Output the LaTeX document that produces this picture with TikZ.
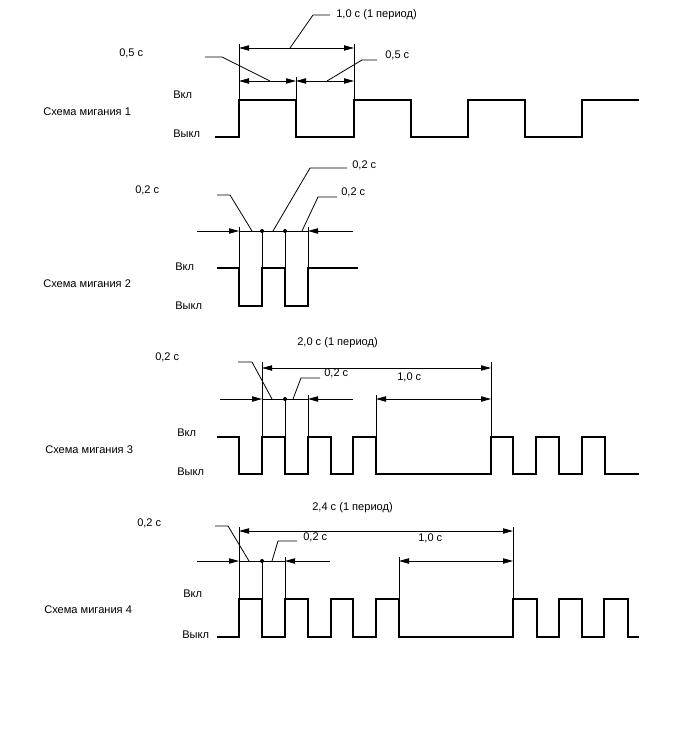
\documentclass[tikz,border=0pt]{standalone}
\usepackage{fontspec}
\setmainfont{Liberation Sans}
\usetikzlibrary{arrows.meta}
\begin{document}
\begin{tikzpicture}[x=0.75pt,y=-0.75pt,
  wave/.style={line width=2.2pt,line join=miter},
  thin/.style={line width=0.6pt},
  dim/.style={line width=0.6pt,{Triangle[length=7.5pt,width=4pt]}-{Triangle[length=7.5pt,width=4pt]}},
  arr/.style={line width=0.6pt,-{Triangle[length=7.5pt,width=4pt]}},
  lbl/.style={anchor=west,inner sep=0pt,font=\fontsize{8.3}{10}\selectfont},
  dotc/.style={circle,fill=black,inner sep=0pt,minimum size=3pt}]
\useasboundingbox (0,0) rectangle (688,755);
\fill[white] (0,0) rectangle (688,755);

% ---------- Schema 1 ----------
\node[lbl] (s1) at (43,112) {Схема мигания 1};
\node[lbl] (on1) at (173,95) {Вкл};
\node[lbl] (off1) at (173,134) {Выкл};
\draw[wave] (215,137) -- (239,137) -- (239,100) -- (296,100) -- (296,137) -- (354,137) -- (354,100) -- (411,100) -- (411,137) -- (468,137) -- (468,100) -- (525,100) -- (525,137) -- (582,137) -- (582,100) -- (639,100);
\coordinate (a1t) at (239,44); \coordinate (a1b) at (239,100);
\coordinate (b1t) at (296,77); \coordinate (b1b) at (296,100);
\coordinate (c1t) at (354,44); \coordinate (c1b) at (354,100);
\draw[thin] (a1t) -- (a1b); \draw[thin] (b1t) -- (b1b); \draw[thin] (c1t) -- (c1b);
\coordinate (p1l) at (239,48); \coordinate (p1r) at (354,48);
\draw[dim] (p1l) -- (p1r);
\coordinate (h1a) at (239,81); \coordinate (h1b) at (296,81); \coordinate (h1c) at (354,81);
\draw[dim] (h1a) -- (h1b);
\draw[dim] (h1b) -- (h1c);
\node[lbl] (t1p) at (336,15) {1,0 с (1 период)};
\draw[thin] (330,15) -- (313,15) -- (290,48);
\node[lbl] (t1a) at (119,53) {0,5 с};
\draw[thin] (205,57) -- (222,57) -- (270,81);
\node[lbl] (t1b) at (385,55) {0,5 с};
\draw[thin] (327,81) -- (362,60) -- (377,60);

% ---------- Schema 2 ----------
\node[lbl] (s2) at (43,284) {Схема мигания 2};
\node[lbl] (on2) at (175,267) {Вкл};
\node[lbl] (off2) at (175,306) {Выкл};
\draw[wave] (217,268) -- (239,268) -- (239,306) -- (262,306) -- (262,268) -- (285,268) -- (285,306) -- (308,306) -- (308,268) -- (358,268);
\draw[thin] (239,227) -- (239,268);
\draw[thin] (262,231) -- (262,268);
\draw[thin] (285,231) -- (285,268);
\draw[thin] (308,227) -- (308,268);
\coordinate (l2) at (197,231); \coordinate (a2) at (239,231);
\coordinate (d2) at (308,231); \coordinate (r2) at (353,231);
\draw[arr] (l2) -- (a2);
\draw[thin] (a2) -- (d2);
\draw[arr] (r2) -- (d2);
\node[dotc] (k2a) at (262,231) {};
\node[dotc] (k2b) at (285,231) {};
\node[lbl] (t2a) at (135,190) {0,2 с};
\draw[thin] (217,195) -- (230,195) -- (252,231);
\node[lbl] (t2b) at (352,165) {0,2 с};
\draw[thin] (273,231) -- (310,168) -- (347,168);
\node[lbl] (t2c) at (341,192) {0,2 с};
\draw[thin] (302,231) -- (318,197) -- (337,197);

% ---------- Schema 3 ----------
\node[lbl] (s3) at (45,450) {Схема мигания 3};
\node[lbl] (on3) at (177,433) {Вкл};
\node[lbl] (off3) at (177,472) {Выкл};
\draw[wave] (217,437) -- (239,437) -- (239,474) -- (262,474) -- (262,437) -- (285,437) -- (285,474) -- (308,474) -- (308,437) -- (331,437) -- (331,474) -- (353,474) -- (353,437) -- (376,437) -- (376,474) -- (491,474) -- (491,437) -- (513,437) -- (513,474) -- (536,474) -- (536,437) -- (559,437) -- (559,474) -- (582,474) -- (582,437) -- (605,437) -- (605,474) -- (639,474);
\draw[thin] (262,362) -- (262,437);
\draw[thin] (491,362) -- (491,437);
\draw[thin] (285,399) -- (285,437);
\draw[thin] (308,395) -- (308,437);
\draw[thin] (376,395) -- (376,437);
\coordinate (p3l) at (262,368); \coordinate (p3r) at (491,368);
\draw[dim] (p3l) -- (p3r);
\node[lbl] (t3p) at (297,343) {2,0 с (1 период)};
\coordinate (l3) at (220,399); \coordinate (a3) at (262,399);
\coordinate (d3) at (308,399); \coordinate (r3) at (353,399);
\draw[arr] (l3) -- (a3);
\draw[thin] (a3) -- (d3);
\draw[arr] (r3) -- (d3);
\node[dotc] (k3) at (285,399) {};
\coordinate (q3l) at (376,399); \coordinate (q3r) at (491,399);
\draw[dim] (q3l) -- (q3r);
\node[lbl] (t3s) at (397,377) {1,0 с};
\node[lbl] (t3a) at (155,357) {0,2 с};
\draw[thin] (238,362) -- (252,362) -- (272,399);
\node[lbl] (t3b) at (324,373) {0,2 с};
\draw[thin] (293,399) -- (301,378) -- (320,378);

% ---------- Schema 4 ----------
\node[lbl] (s4) at (44,610) {Схема мигания 4};
\node[lbl] (on4) at (183,594) {Вкл};
\node[lbl] (off4) at (182,635) {Выкл};
\draw[wave] (217,637) -- (239,637) -- (239,599) -- (262,599) -- (262,637) -- (285,637) -- (285,599) -- (308,599) -- (308,637) -- (331,637) -- (331,599) -- (353,599) -- (353,637) -- (376,637) -- (376,599) -- (399,599) -- (399,637) -- (513,637) -- (513,599) -- (537,599) -- (537,637) -- (559,637) -- (559,599) -- (582,599) -- (582,637) -- (604,637) -- (604,599) -- (628,599) -- (628,637) -- (639,637);
\draw[thin] (239,527) -- (239,599);
\draw[thin] (513,527) -- (513,599);
\draw[thin] (262,561) -- (262,599);
\draw[thin] (285,557) -- (285,599);
\draw[thin] (399,557) -- (399,599);
\coordinate (p4l) at (239,531); \coordinate (p4r) at (513,531);
\draw[dim] (p4l) -- (p4r);
\node[lbl] (t4p) at (312,508) {2,4 с (1 период)};
\coordinate (l4) at (197,561); \coordinate (a4) at (239,561);
\coordinate (d4) at (285,561); \coordinate (r4) at (330,561);
\draw[arr] (l4) -- (a4);
\draw[thin] (a4) -- (d4);
\draw[arr] (r4) -- (d4);
\node[dotc] (k4) at (262,561) {};
\coordinate (q4l) at (399,561); \coordinate (q4r) at (513,561);
\draw[dim] (q4l) -- (q4r);
\node[lbl] (t4s) at (418,538) {1,0 с};
\node[lbl] (t4a) at (137,523) {0,2 с};
\draw[thin] (215,526) -- (228,526) -- (249,561);
\node[lbl] (t4b) at (303,537) {0,2 с};
\draw[thin] (272,561) -- (278,541) -- (297,541);
\end{tikzpicture}
\end{document}
